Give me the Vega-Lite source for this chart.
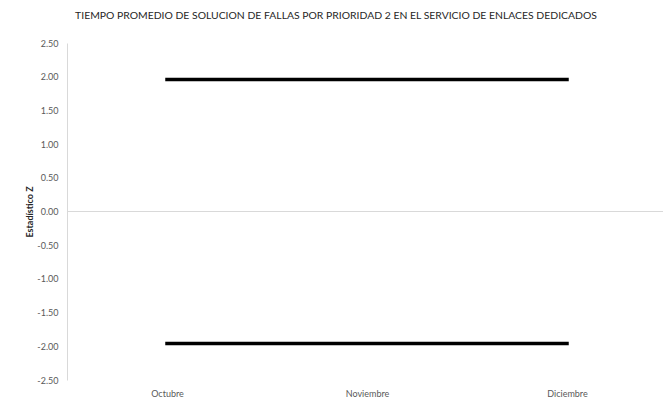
{
  "$schema": "https://vega.github.io/schema/vega-lite/v6.json",
  "width": 600,
  "height": 337,
  "autosize": {"type": "none"},
  "padding": {"left": 67, "top": 43, "right": -4, "bottom": 26},
  "background": "white",
  "config": {
    "view": {"stroke": null},
    "font": "Lato"
  },
  "title": {
    "text": "TIEMPO PROMEDIO DE SOLUCION DE FALLAS POR PRIORIDAD 2 EN EL SERVICIO DE ENLACES DEDICADOS",
    "anchor": "middle",
    "frame": "group",
    "dx": -31,
    "offset": 18,
    "fontSize": 10.4,
    "fontWeight": "normal",
    "color": "#262626",
    "font": "Lato"
  },
  "data": {
    "values": [
      {"mes": "Octubre", "serie": "Límite superior", "z": 1.96},
      {"mes": "Noviembre", "serie": "Límite superior", "z": 1.96},
      {"mes": "Diciembre", "serie": "Límite superior", "z": 1.96},
      {"mes": "Octubre", "serie": "Límite inferior", "z": -1.96},
      {"mes": "Noviembre", "serie": "Límite inferior", "z": -1.96},
      {"mes": "Diciembre", "serie": "Límite inferior", "z": -1.96}
    ]
  },
  "layer": [
    {
      "mark": {"type": "line", "color": "#000000", "strokeWidth": 3.5, "strokeCap": "square"},
      "encoding": {
        "x": {
          "field": "mes",
          "type": "ordinal",
          "sort": ["Octubre", "Noviembre", "Diciembre"],
          "scale": {"type": "point", "padding": 0.5},
          "axis": {
            "title": null,
            "domain": false,
            "ticks": false,
            "labelAngle": 0,
            "labelPadding": 9,
            "labelFontSize": 9,
            "labelColor": "#595959",
            "labelFont": "Lato"
          }
        },
        "y": {
          "field": "z",
          "type": "quantitative",
          "scale": {"domain": [-2.5, 2.5], "nice": false, "zero": false},
          "axis": {
            "title": "Estadístico Z",
            "titleFontWeight": "bold",
            "titleFontSize": 9,
            "titleColor": "#262626",
            "titlePadding": 2,
            "titleFont": "Lato",
            "tickCount": 11,
            "labelExpr": "replace(format(datum.value, '.2f'), '\u2212', '-')",
            "labelOverlap": false,
            "labelSeparation": 0,
            "grid": false,
            "ticks": false,
            "domainColor": "#d9d9d9",
            "labelPadding": 9,
            "labelFontSize": 9,
            "labelColor": "#595959",
            "labelFont": "Lato"
          }
        },
        "detail": {"field": "serie", "type": "nominal"}
      }
    },
    {
      "mark": {"type": "rule", "color": "#d9d9d9", "strokeWidth": 1},
      "encoding": {"y": {"datum": 0, "type": "quantitative"}}
    }
  ]
}
